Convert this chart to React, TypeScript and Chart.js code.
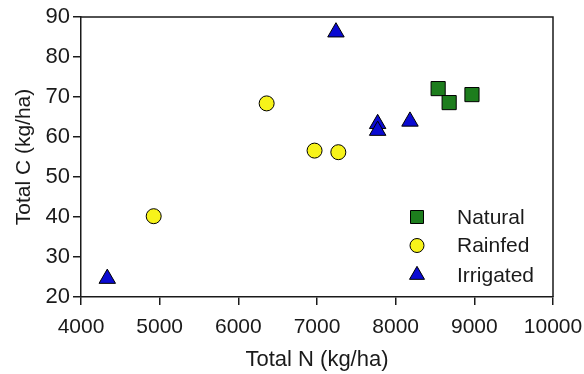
import React, { useEffect, useRef } from "react";
import { Chart, registerables } from "chart.js";

Chart.register(...registerables);

const naturalN = [8540, 8680, 8970];
const naturalC = [72.1, 68.6, 70.6];
const rainfedN = [6360, 6969, 7271, 4924];
const rainfedC = [68.4, 56.6, 56.2, 40.2];
const irrigatedN = [7241, 7771, 7771, 8182, 4334];
const irrigatedC = [86.2, 63.3, 61.6, 63.9, 24.6];

const seriesNames = ["Natural", "Rainfed", "Irrigated"];
const xTitle = "Total N (kg/ha)";
const yTitle = "Total C (kg/ha)";

const FONT = "'Liberation Sans', Arial, sans-serif";
const INK = "#1a1a1a";

function toPoints(xs: number[], ys: number[]) {
  return xs.map((x, i) => ({ x, y: ys[i] }));
}

function drawMarker(ctx: CanvasRenderingContext2D, style: string, x: number, y: number, size: number, fill: string) {
  ctx.save();
  ctx.fillStyle = fill;
  ctx.strokeStyle = "#000";
  ctx.lineWidth = 1;
  ctx.beginPath();
  if (style === "rect") {
    ctx.rect(x - size / 2, y - size / 2, size, size);
  } else if (style === "circle") {
    ctx.arc(x, y, size / 2, 0, Math.PI * 2);
  } else {
    const r = size / Math.sqrt(3);
    ctx.moveTo(x, y - r);
    ctx.lineTo(x + size / 2, y + r / 2);
    ctx.lineTo(x - size / 2, y + r / 2);
    ctx.closePath();
  }
  ctx.fill();
  ctx.stroke();
  ctx.restore();
}

const framePlugin = {
  id: "frame",
  afterDraw(chart: any) {
    const { ctx, chartArea } = chart;
    ctx.save();
    ctx.strokeStyle = INK;
    ctx.lineWidth = 1.5;
    ctx.beginPath();
    ctx.moveTo(chartArea.left, chartArea.top);
    ctx.lineTo(chartArea.right, chartArea.top);
    ctx.lineTo(chartArea.right, chartArea.bottom);
    ctx.stroke();
    ctx.restore();
  },
};

const legendPlugin = {
  id: "customLegend",
  afterDraw(chart: any) {
    const { ctx, chartArea } = chart;
    const rows = [-80, -51.5, -22];
    const sizes = [13, 14, 15];
    chart.data.datasets.forEach((ds: any, i: number) => {
      const y = chartArea.bottom + rows[i];
      drawMarker(ctx, ds.pointStyle, chartArea.right - 136, y, sizes[i], ds.backgroundColor);
      ctx.save();
      ctx.fillStyle = INK;
      ctx.font = `21px ${FONT}`;
      ctx.textAlign = "left";
      ctx.textBaseline = "middle";
      ctx.fillText(ds.label, chartArea.right - 96, y + 1);
      ctx.restore();
    });
  },
};

export default function App() {
  const ref = useRef<HTMLCanvasElement>(null);
  useEffect(() => {
    if (!ref.current) return;
    const chart = new Chart(ref.current, {
      type: "scatter",
      data: {
        datasets: [
          {
            label: seriesNames[0],
            data: toPoints(naturalN, naturalC),
            pointStyle: "rect",
            pointRadius: 10,
            backgroundColor: "#1d7d1d",
            borderColor: "#000",
            borderWidth: 1,
          },
          {
            label: seriesNames[1],
            data: toPoints(rainfedN, rainfedC),
            pointStyle: "circle",
            pointRadius: 7.5,
            backgroundColor: "#f7f31a",
            borderColor: "#000",
            borderWidth: 1,
          },
          {
            label: seriesNames[2],
            data: toPoints(irrigatedN, irrigatedC),
            pointStyle: "triangle",
            pointRadius: 9.5,
            backgroundColor: "#0a0ad2",
            borderColor: "#000",
            borderWidth: 1,
          },
        ] as any,
      },
      options: {
        responsive: false,
        animation: false,
        layout: { padding: { left: 0, top: 17, right: 31, bottom: 0 } },
        plugins: { legend: { display: false }, tooltip: { enabled: false } },
        scales: {
          x: {
            type: "linear",
            min: 4000,
            max: 10000,
            afterFit: (s: any) => {
              s.height = 77;
              s.paddingLeft = 0;
              s.paddingRight = 0;
            },
            ticks: {
              stepSize: 1000,
              color: INK,
              font: { size: 21, family: FONT },
              padding: 10,
              maxRotation: 0,
              callback: (v: any) => String(v),
            },
            grid: { drawOnChartArea: false, drawTicks: true, tickLength: 8, color: INK, lineWidth: 1.5 },
            border: { display: true, color: INK, width: 1.5 },
            title: {
              display: true,
              text: xTitle,
              color: INK,
              font: { size: 22, family: FONT },
              padding: { top: 0, bottom: 1 },
            },
          },
          y: {
            type: "linear",
            min: 20,
            max: 90,
            afterFit: (s: any) => {
              s.width = 81;
              s.paddingTop = 0;
              s.paddingBottom = 0;
            },
            ticks: {
              stepSize: 10,
              color: INK,
              font: { size: 22, family: FONT },
              padding: 3,
              callback: (v: any) => String(v),
            },
            grid: { drawOnChartArea: false, drawTicks: true, tickLength: 8, color: INK, lineWidth: 1.5 },
            border: { display: true, color: INK, width: 1.5 },
            title: {
              display: true,
              text: yTitle,
              color: INK,
              font: { size: 21, family: FONT },
              padding: { top: 12, bottom: 0 },
            },
          },
        },
      },
      plugins: [framePlugin, legendPlugin],
    });
    return () => chart.destroy();
  }, []);
  return (
    <div style={{ position: "fixed", left: 0, top: 0, width: 584, height: 374, background: "#fff" }}>
      <canvas ref={ref} width={584} height={374} />
    </div>
  );
}
